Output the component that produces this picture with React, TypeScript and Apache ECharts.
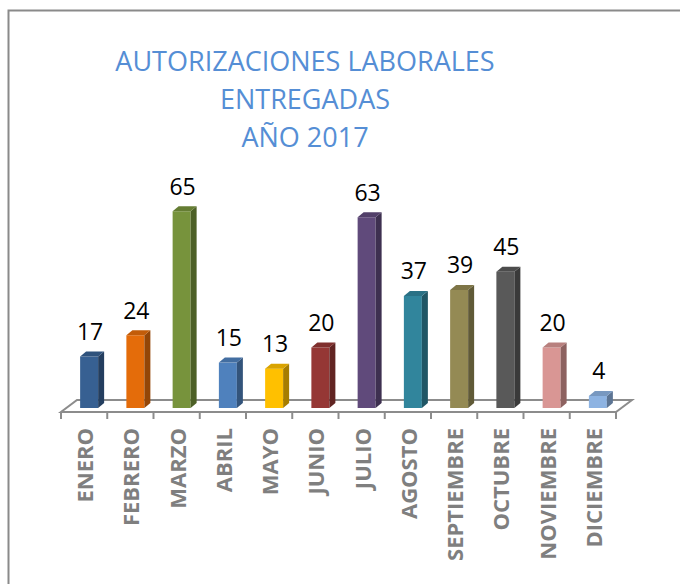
import React, { useEffect, useRef } from "react";
import * as echarts from "echarts";

const months = ["ENERO", "FEBRERO", "MARZO", "ABRIL", "MAYO", "JUNIO", "JULIO", "AGOSTO", "SEPTIEMBRE", "OCTUBRE", "NOVIEMBRE", "DICIEMBRE"];
const values = [17, 24, 65, 15, 13, 20, 63, 37, 39, 45, 20, 4];
const frontColors = ["#376092", "#E46C0A", "#77933C", "#4F81BD", "#FFC000", "#953735", "#604A7B", "#31859C", "#948A54", "#595959", "#D99694", "#8DB3E2"];
const titleLines = ["AUTORIZACIONES LABORALES", "ENTREGADAS", "AÑO 2017"];

function shade(hex: string, f: number): string {
  const n = parseInt(hex.slice(1), 16);
  const r = Math.round(((n >> 16) & 255) * f);
  const g = Math.round(((n >> 8) & 255) * f);
  const b = Math.round((n & 255) * f);
  return "rgb(" + r + "," + g + "," + b + ")";
}

export default function App() {
  const ref = useRef<HTMLDivElement>(null);
  useEffect(() => {
    if (!ref.current) return;
    const chart = echarts.init(ref.current, null, { renderer: "svg" });
    const gray = "#8C8C8C";
    chart.setOption({
      animation: false,
      backgroundColor: "#ffffff",
      grid: { left: 61, right: 64, top: 196, bottom: 176 },
      xAxis: {
        type: "category",
        data: months,
        axisLine: { show: false },
        axisTick: { show: false },
        axisLabel: {
          rotate: 90,
          margin: 20,
          fontSize: 22,
          fontWeight: "bold",
          color: "#7F7F7F",
          fontFamily: "Open Sans",
          interval: 0,
        },
      },
      yAxis: { type: "value", min: 0, max: 70, show: false, splitLine: { show: false } },
      graphic: [
        {
          type: "rect",
          shape: { x: 8.5, y: 10.5, width: 720, height: 620 },
          style: { fill: "none", stroke: "#8A8A8A", lineWidth: 2 },
          silent: true,
        },
        {
          type: "text",
          x: 305,
          y: 41,
          style: {
            text: titleLines.join("\n"),
            fontSize: 27,
            lineHeight: 38,
            fontFamily: "Open Sans",
            fill: "#558ED5",
            textAlign: "center",
            textVerticalAlign: "top",
          },
        },
      ],
      series: [
        {
          type: "custom",
          z: 1,
          data: [[0, 0]],
          renderItem: (params: any, api: any) => {
            const cs = params.coordSys;
            const L = cs.x;
            const R = cs.x + cs.width;
            const base = api.coord([0, 0])[1];
            const fy = base + 4;
            const by = base - 8;
            const step = cs.width / months.length;
            const children: any[] = [
              {
                type: "polygon",
                shape: { points: [[L, fy], [R, fy], [R + 16, by], [L + 16, by]] },
                style: { fill: "#ffffff", stroke: gray, lineWidth: 2 },
              },
            ];
            for (let k = 0; k <= months.length; k++) {
              const x = L + step * k;
              children.push({
                type: "line",
                shape: { x1: x, y1: fy, x2: x, y2: fy + 7 },
                style: { stroke: gray, lineWidth: 2 },
              });
            }
            return { type: "group", children };
          },
        },
        {
          type: "custom",
          z: 2,
          data: values.map((v, i) => [i, v]),
          encode: { x: 0, y: 1 },
          renderItem: (params: any, api: any) => {
            const i = api.value(0);
            const v = api.value(1);
            const top = api.coord([i, v]);
            const bot = api.coord([i, 0]);
            const cx = bot[0] + 5;
            const hw = 9;
            const dx = 6;
            const dy = 5;
            const x0 = cx - hw;
            const x1 = cx + hw;
            const yT = top[1];
            const yB = bot[1];
            const c = frontColors[params.dataIndex];
            return {
              type: "group",
              children: [
                {
                  type: "rect",
                  shape: { x: x0, y: yT, width: hw * 2, height: yB - yT },
                  style: { fill: c },
                },
                {
                  type: "polygon",
                  shape: { points: [[x1, yT], [x1 + dx, yT - dy], [x1 + dx, yB - dy], [x1, yB]] },
                  style: { fill: shade(c, 0.65) },
                },
                {
                  type: "polygon",
                  shape: { points: [[x0, yT], [x1, yT], [x1 + dx, yT - dy], [x0 + dx, yT - dy]] },
                  style: { fill: shade(c, 0.85) },
                },
                {
                  type: "text",
                  x: cx + 1,
                  y: yT - 14,
                  style: {
                    text: String(v),
                    fontSize: 23,
                    fontFamily: "Open Sans",
                    fill: "#000000",
                    textAlign: "center",
                    textVerticalAlign: "bottom",
                  },
                },
              ],
            };
          },
        },
      ],
    });
    return () => chart.dispose();
  }, []);
  return <div ref={ref} style={{ position: "fixed", left: 0, top: 0, width: 680, height: 584 }} />;
}
